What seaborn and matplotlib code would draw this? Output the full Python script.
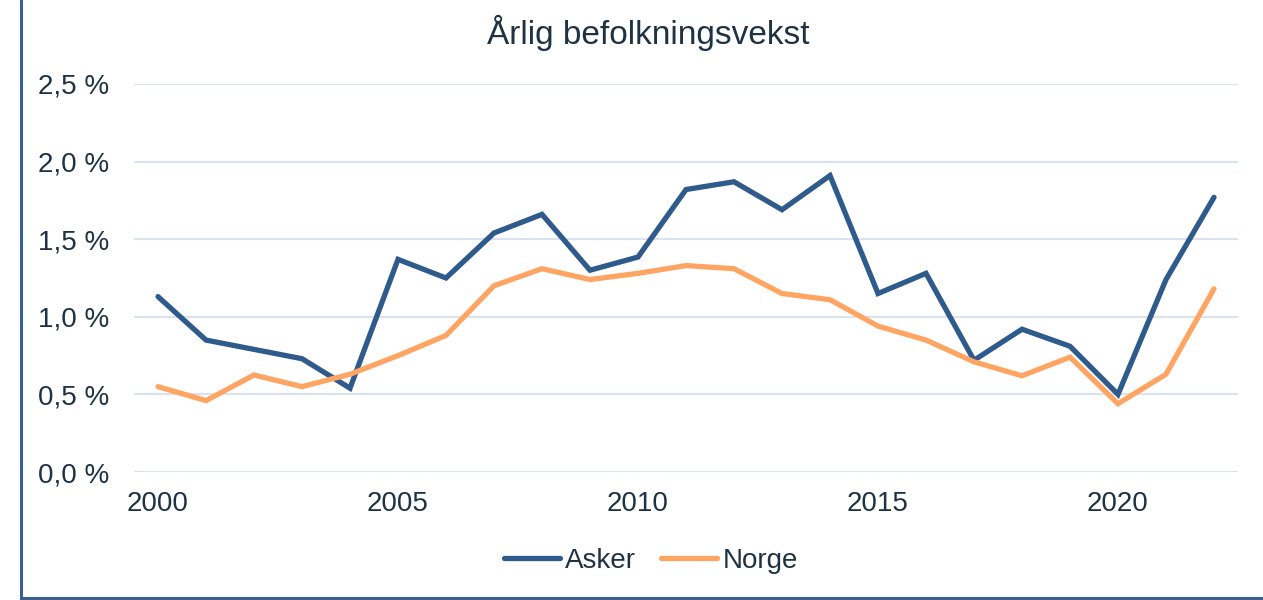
import numpy as np
import pandas as pd
import matplotlib
matplotlib.use("Agg")
import matplotlib.pyplot as plt
from matplotlib.lines import Line2D
import seaborn as sns

years = list(range(2000, 2023))
asker = [1.13, 0.85, 0.79, 0.73, 0.54, 1.37, 1.25, 1.54, 1.66, 1.30, 1.385,
         1.82, 1.87, 1.69, 1.91, 1.15, 1.28, 0.72, 0.92, 0.81, 0.50, 1.24, 1.77]
norge = [0.55, 0.46, 0.625, 0.55, 0.63, 0.75, 0.88, 1.20, 1.31, 1.24, 1.28,
         1.33, 1.31, 1.15, 1.11, 0.94, 0.85, 0.71, 0.62, 0.74, 0.44, 0.63, 1.18]
series_names = ["Asker", "Norge"]
title = "Årlig befolkningsvekst"
y_ticks = [0.0, 0.5, 1.0, 1.5, 2.0, 2.5]
x_ticks = [2000, 2005, 2010, 2015, 2020]

df = pd.DataFrame({
    "year": years * 2,
    "value": asker + norge,
    "series": [series_names[0]] * len(years) + [series_names[1]] * len(years),
})

sns.set_theme(style="white")
plt.rcParams["font.family"] = ["Liberation Sans", "DejaVu Sans"]
text_color = "#1F3244"
palette = {"Asker": "#2E5A8C", "Norge": "#FFA563"}

fig = plt.figure(figsize=(12.63, 6.0), dpi=100)
ax = fig.add_axes([134 / 1263, 1 - 472 / 600, (1238 - 134) / 1263, (472 - 84) / 600])

sns.lineplot(data=df, x="year", y="value", hue="series", palette=palette,
             linewidth=3.8, ax=ax, legend=False, solid_capstyle="round",
             solid_joinstyle="miter")

ax.set_xlim(1999.5, 2022.5)
ax.set_ylim(0, 2.5)
ax.set_yticks(y_ticks)
ax.set_yticklabels([f"{v:.1f} %".replace(".", ",") for v in y_ticks])
ax.set_xticks(x_ticks)
ax.set_xticklabels([str(x) for x in x_ticks])
ax.grid(axis="y", color="#D9E2EE", linewidth=1.5)
ax.set_axisbelow(True)
for s in ax.spines.values():
    s.set_visible(False)
ax.tick_params(axis="both", length=0, labelsize=20, colors=text_color)
ax.tick_params(axis="y", pad=18)
ax.tick_params(axis="x", pad=14)
ax.set_xlabel("")
ax.set_ylabel("")

fig.text(0.513, 1 - 33 / 600, title, ha="center", va="center", fontsize=24, color=text_color)

handles = [Line2D([0], [0], color=palette[n], linewidth=3.8, solid_capstyle="round") for n in series_names]
fig.legend(handles, series_names, loc="center", bbox_to_anchor=(651 / 1263, 1 - 561 / 600), ncol=2,
           frameon=False, fontsize=20, labelcolor=text_color, handlelength=2.0,
           handletextpad=0.2, columnspacing=0.9)

border = "#3A6091"
fig.add_artist(Line2D([21 / 1263, 21 / 1263], [0, 1], color=border, linewidth=2.2, transform=fig.transFigure))
fig.add_artist(Line2D([21 / 1263, 1], [2 / 600, 2 / 600], color=border, linewidth=2.2, transform=fig.transFigure))

fig.savefig("out.png", dpi=100)
